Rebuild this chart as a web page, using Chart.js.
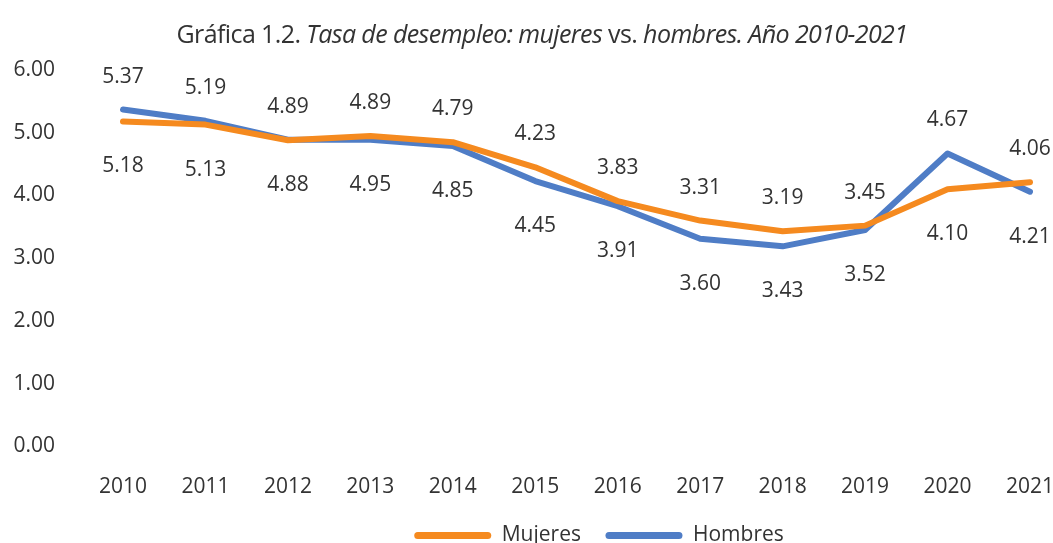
<!DOCTYPE html>
<html>
<head>
<meta charset="utf-8">
<script src="https://cdn.jsdelivr.net/npm/chart.js@4.4.1/dist/chart.umd.min.js"></script>
<style>
  html, body { margin: 0; padding: 0; background: #fff; overflow: hidden; }
  #wrap { position: relative; width: 1053px; height: 556px; }
  #title {
    position: absolute; top: 16px; left: 0; width: 1084px; text-align: center;
    font-family: "Open Sans", sans-serif; font-size: 25px; color: #333; letter-spacing: -0.6px;
  }
  #title i { font-style: italic; }
</style>
</head>
<body>
<div id="wrap">
  <div id="title">Gráfica 1.2. <i>Tasa de desempleo: mujeres</i> vs. <i>hombres. Año 2010-2021</i></div>
  <canvas id="chart"></canvas>
</div>
<script>
const years = ['2010', '2011', '2012', '2013', '2014', '2015', '2016', '2017', '2018', '2019', '2020', '2021'];
const mujeres = [5.18, 5.13, 4.88, 4.95, 4.85, 4.45, 3.91, 3.60, 3.43, 3.52, 4.10, 4.21];
const hombres = [5.37, 5.19, 4.89, 4.89, 4.79, 4.23, 3.83, 3.31, 3.19, 3.45, 4.67, 4.06];
const yTicks = [0, 1, 2, 3, 4, 5, 6];

const orange = '#F58A1F';
const blue = '#4F7DC6';
const textColor = '#333333';
const font = '"Open Sans", sans-serif';

// hombres labels go above both lines, mujeres labels below both
const valueLabels = {
  id: 'valueLabels',
  afterLayout(chart) {
    // legend sits a bit right of the page centre in the original
    chart.legend.left += 84;
    chart.legend.right += 84;
  },
  afterDatasetsDraw(chart) {
    const { ctx, scales: { x, y } } = chart;
    ctx.save();
    ctx.font = '21px ' + font;
    ctx.fillStyle = textColor;
    ctx.textAlign = 'center';
    ctx.textBaseline = 'middle';
    years.forEach((yr, i) => {
      const px = x.getPixelForValue(i);
      const yM = y.getPixelForValue(mujeres[i]);
      const yH = y.getPixelForValue(hombres[i]);
      ctx.fillText(hombres[i].toFixed(2), px, Math.min(yM, yH) - 33);
      ctx.fillText(mujeres[i].toFixed(2), px, Math.max(yM, yH) + 45);
    });
    ctx.restore();
  }
};

new Chart(document.getElementById('chart'), {
  type: 'line',
  data: {
    labels: years,
    datasets: [
      {
        label: 'Mujeres',
        data: mujeres,
        borderColor: orange,
        backgroundColor: orange,
        borderWidth: 6,
        pointRadius: 0,
        tension: 0,
        borderJoinStyle: 'round',
        borderCapStyle: 'round'
      },
      {
        label: 'Hombres',
        data: hombres,
        borderColor: blue,
        backgroundColor: blue,
        borderWidth: 6,
        pointRadius: 0,
        tension: 0,
        borderJoinStyle: 'round',
        borderCapStyle: 'round'
      }
    ]
  },
  options: {
    responsive: true,
    maintainAspectRatio: false,
    animation: false,
    layout: { padding: { top: 70, left: 0, right: 23, bottom: 0 } },
    scales: {
      x: {
        offset: false,
        grid: { display: false, drawTicks: false },
        border: { display: false },
        ticks: { color: textColor, font: { family: font, size: 21 }, padding: 28.4, maxRotation: 0 },
        afterFit(axis) {
          axis.height = 54;
          axis.paddingLeft = 0;
          axis.paddingRight = 0;
        }
      },
      y: {
        min: 0,
        max: 6,
        afterBuildTicks(axis) { axis.ticks = yTicks.map(v => ({ value: v })); },
        grid: { display: false, drawTicks: false },
        border: { display: false },
        ticks: {
          color: textColor,
          font: { family: font, size: 21 },
          padding: 68,
          callback: v => v.toFixed(2)
        },
        afterFit(axis) {
          axis.width = 123;
          axis.paddingTop = 0;
          axis.paddingBottom = 0;
        }
      }
    },
    plugins: {
      legend: {
        position: 'bottom',
        labels: {
          color: textColor,
          font: { family: font, size: 21 },
          boxWidth: 77,
          boxHeight: 7,
          useBorderRadius: true,
          borderRadius: 3.5,
          padding: 24.5,
          generateLabels(chart) {
            return Chart.defaults.plugins.legend.labels.generateLabels(chart)
              .map(item => ({ ...item, lineWidth: 0 }));
          }
        }
      },
      tooltip: { enabled: false }
    }
  },
  plugins: [valueLabels]
});
</script>
</body>
</html>
